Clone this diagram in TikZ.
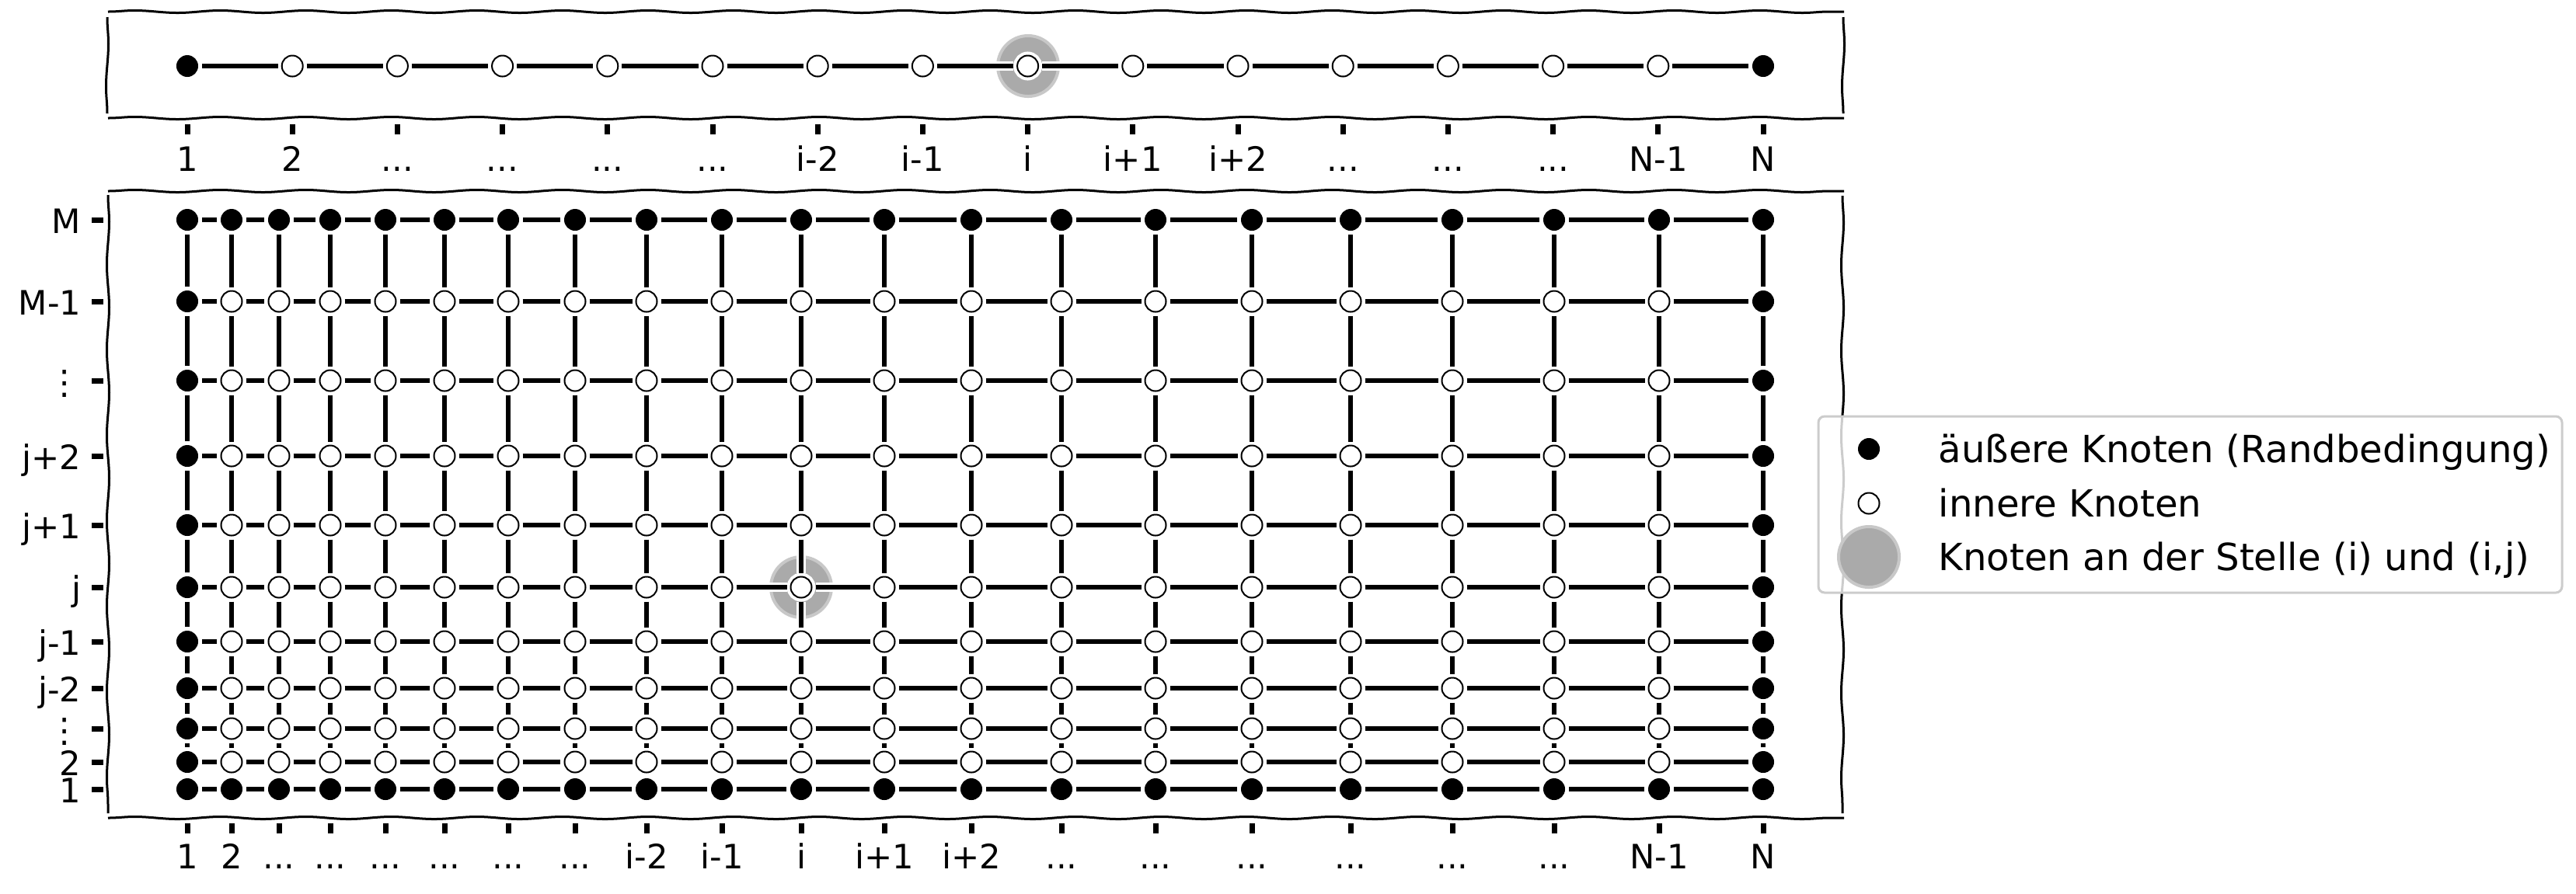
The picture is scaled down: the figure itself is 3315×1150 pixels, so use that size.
\documentclass[tikz,border=0pt]{standalone}
\usepackage{fontspec}
\setmainfont{DejaVu Sans}
\usetikzlibrary{decorations.pathmorphing}

\definecolor{hlfill}{HTML}{AAAAAA}
\definecolor{hledge}{HTML}{C8C8C8}
\definecolor{legedge}{HTML}{CCCCCC}
\newcommand{\skipdots}{...}

\tikzset{
  halo/.style={circle, inner sep=0pt, outer sep=0.05cm,
    preaction={draw=white, line width=0.1cm}},
  outer/.style={halo, fill=black, minimum size=0.28cm},
  inner/.style={halo, fill=white, draw=black, line width=0.02cm, minimum size=0.27cm},
  hilite/.style={circle, inner sep=0pt, fill=hlfill, draw=hledge, line width=0.04cm, minimum size=0.78cm},
  link/.style={line width=0.055cm, preaction={draw=white, line width=0.115cm}},
  spine/.style={line width=0.03cm, decorate, decoration={snake, amplitude=0.015cm, segment length=1.1cm}},
  tickmark/.style={line width=0.07cm},
  ticklabel/.style={inner sep=0pt, font=\fontsize{12.3}{14}\selectfont},
  legendtext/.style={inner sep=0pt, anchor=base west, font=\fontsize{13.7}{16}\selectfont}
}

\begin{document}
\begin{tikzpicture}[x=0.01cm, y=-0.01cm]
    \useasboundingbox (0,0) rectangle (3315,1150);

    % Highlighted nodes (i) and (i,j)
    \node[hilite] (hl-top) at (1323,85) {};
    \node[hilite] (hl-grid) at (1031,756) {};

    % Upper axes: one row of nodes
    \draw[spine] (139,15) -- (2373,15);
    \draw[spine] (139,152) -- (2373,152);
    \draw[spine] (138,22) -- (138,146);
    \draw[spine] (2372,22) -- (2372,146);
    \foreach \l [count=\k] in {1,2,\skipdots,\skipdots,\skipdots,\skipdots,i-2,i-1,i,i+1,i+2,\skipdots,\skipdots,\skipdots,N-1,N}{
        \pgfmathsetmacro\x{241+135.2*(\k-1)}
        \pgfmathtruncatemacro\isout{(\k==1)||(\k==16)}
        \ifnum\isout=1 \def\kind{outer}\else\def\kind{inner}\fi
        \node[\kind] (t-\k) at (\x,85) {};
        \draw[tickmark] (\x,160) -- (\x,173);
        \node[ticklabel, anchor=base] (tl-\k) at (\x,220) {\l};
    }
    \foreach \k [evaluate=\k as \n using int(\k+1)] in {1,...,15}
        \draw[link] (t-\k) -- (t-\n);

    % Lower axes: grid of nodes
    \draw[spine] (139,246) -- (2373,246);
    \draw[spine] (139,1053) -- (2373,1053);
    \draw[spine] (139,251) -- (139,1047);
    \draw[spine] (2371,252) -- (2371,1047);
    \foreach \y/\m [count=\row] in {283/M,388/M-1,490/⋮,587/j+2,676/j+1,756/j,826/j-1,886/j-2,938/⋮,981/2,1016/1}{
        \draw[tickmark] (118,\y) -- (133,\y);
        \node[ticklabel, anchor=base east] (yl-\row) at (105,\y+17) {\m};
        \foreach \x [count=\col] in {241,298,359,425,496,572,654,740,832,929,1031,1138,1250,1366,1487,1611,1738,1869,2000,2135,2269}{
            \pgfmathtruncatemacro\isout{(\row==1)||(\row==11)||(\col==1)||(\col==21)}
            \ifnum\isout=1 \def\kind{outer}\else\def\kind{inner}\fi
            \node[\kind] (g-\col-\row) at (\x,\y) {};
        }
    }
    \foreach \x/\l [count=\col] in {241/1,298/2,359/\skipdots,425/\skipdots,496/\skipdots,572/\skipdots,654/\skipdots,740/\skipdots,832/i-2,929/i-1,1031/i,1138/i+1,1250/i+2,1366/\skipdots,1487/\skipdots,1611/\skipdots,1738/\skipdots,1869/\skipdots,2000/\skipdots,2135/N-1,2269/N}{
        \draw[tickmark] (\x,1060) -- (\x,1073);
        \node[ticklabel, anchor=base] (xl-\col) at (\x,1118) {\l};
    }

    % Connectors in the grid
    \foreach \row in {1,...,11}{
        \foreach \col [evaluate=\col as \nxt using int(\col+1)] in {1,...,20}{
            \draw[link] (g-\col-\row) -- (g-\nxt-\row);
        }
    }
    \foreach \col in {1,...,21}{
        \foreach \row [evaluate=\row as \nxt using int(\row+1)] in {1,...,9}{
            \draw[link] (g-\col-\row) -- (g-\col-\nxt);
        }
    }

    % Legend
    \draw[rounded corners=0.08cm, draw=legedge, line width=0.03cm, fill=white, fill opacity=0.8] (2340,536) rectangle (3297,763);
    \node[outer] (leg-out) at (2405,578) {};
    \node[legendtext] (leg-out-txt) at (2494,595) {äußere Knoten (Randbedingung)};
    \node[inner] (leg-in) at (2405,648) {};
    \node[legendtext] (leg-in-txt) at (2494,665) {innere Knoten};
    \node[hilite] (leg-hl) at (2405,717) {};
    \node[legendtext] (leg-hl-txt) at (2494,734) {Knoten an der Stelle (i) und (i,j)};
\end{tikzpicture}
\end{document}
